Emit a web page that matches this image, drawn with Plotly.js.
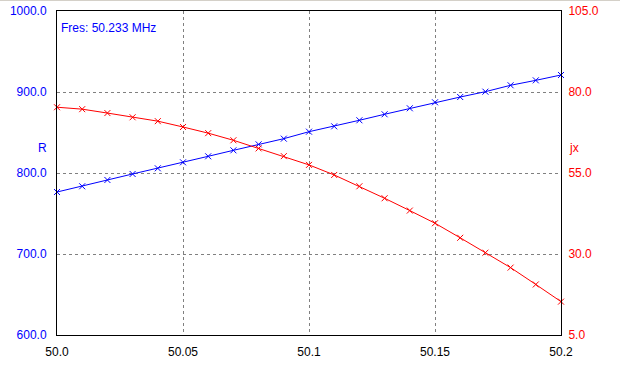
<!DOCTYPE html>
<html>
<head>
<meta charset="utf-8">
<script src="https://cdn.plot.ly/plotly-3.0.1.min.js"></script>
<style>
html,body{margin:0;padding:0;background:#fff;}
#chart{width:620px;height:364px;border-top:1px solid #d4d0c8;}
</style>
</head>
<body>
<div id="chart"></div>
<script>
const freq = [50.00,50.01,50.02,50.03,50.04,50.05,50.06,50.07,50.08,50.09,50.10,50.11,50.12,50.13,50.14,50.15,50.16,50.17,50.18,50.19,50.20];
const rValues = [776.5,783.6,791.4,798.8,805.8,813.2,820.6,828.0,835.4,842.4,851.0,857.6,865.1,872.5,879.9,887.3,893.8,900.4,908.3,914.4,921.0];
const jxValues = [75.3,74.7,73.5,72.2,71.0,69.2,67.3,65.1,62.6,60.2,57.5,54.4,50.9,47.2,43.4,39.5,35.0,30.4,25.8,20.6,15.3];
const xTicks = [50.0,50.05,50.1,50.15,50.2];
const xTickText = ["50.0","50.05","50.1","50.15","50.2"];
const rTicks = [600,700,800,900,1000];
const rTickText = ["600.0","700.0","800.0","900.0","1000.0"];
const jxTicks = [5,30,55,80,105];
const jxTickText = ["5.0","30.0","55.0","80.0","105.0"];
const fresLabel = "Fres: 50.233 MHz";

const font = 'Liberation Sans, Arial, sans-serif';

const traces = [
  {x: freq, y: rValues, type:'scatter', mode:'lines+markers', yaxis:'y',
   line:{color:'#0000ff', width:1},
   marker:{symbol:'x-thin', size:6, line:{color:'#0000ff', width:1}, color:'#0000ff'},
   hoverinfo:'skip', cliponaxis:false},
  {x: freq, y: jxValues, type:'scatter', mode:'lines+markers', yaxis:'y2',
   line:{color:'#ff0000', width:1},
   marker:{symbol:'x-thin', size:6, line:{color:'#ff0000', width:1}, color:'#ff0000'},
   hoverinfo:'skip', cliponaxis:false}
];

const layout = {
  width:620, height:364,
  margin:{l:57, r:59, t:10, b:30, pad:0},
  paper_bgcolor:'#fff', plot_bgcolor:'#fff',
  showlegend:false,
  font:{family:font, size:12, color:'#000'},
  xaxis:{range:[50.0,50.2], tickvals:xTicks, ticktext:xTickText,
    showgrid:true, gridcolor:'#808080', griddash:'3px,3px', gridwidth:1,
    showline:true, linecolor:'#000', linewidth:1, mirror:true,
    zeroline:false, ticks:'outside', ticklen:6, tickcolor:'rgba(0,0,0,0)',
    tickfont:{family:font, size:12, color:'#000'}},
  yaxis:{range:[600,1000], tickvals:rTicks, ticktext:rTickText,
    showgrid:true, gridcolor:'#808080', griddash:'3px,3px', gridwidth:1,
    showline:true, linecolor:'#000', linewidth:1, mirror:true,
    zeroline:false, ticks:'outside', ticklen:7, tickcolor:'rgba(0,0,0,0)',
    tickfont:{family:font, size:12, color:'#0000ff'}},
  yaxis2:{range:[5,105], tickvals:jxTicks, ticktext:jxTickText,
    overlaying:'y', side:'right', showgrid:false,
    showline:true, linecolor:'#000', linewidth:1,
    zeroline:false, ticks:'outside', ticklen:4, tickcolor:'rgba(0,0,0,0)',
    tickfont:{family:font, size:12, color:'#ff0000'}},
  annotations:[
    {text:fresLabel, xref:'paper', yref:'paper', x:0, y:1, xanchor:'left', yanchor:'top',
     xshift:2, yshift:-8, showarrow:false, font:{family:font, size:12, color:'#0000ff'}},
    {text:'R', xref:'paper', yref:'paper', x:0, y:(1000-845)/400, xanchor:'right', yanchor:'middle',
     xshift:-8, showarrow:false, font:{family:font, size:12, color:'#0000ff'}},
    {text:'jx', xref:'paper', yref:'paper', x:1, y:0.578, xanchor:'left', yanchor:'middle',
     xshift:6, showarrow:false, font:{family:font, size:12, color:'#ff0000'}}
  ]
};
layout.annotations[1].y = 0.578;

Plotly.newPlot('chart', traces, layout, {displayModeBar:false, staticPlot:true});
</script>
</body>
</html>
